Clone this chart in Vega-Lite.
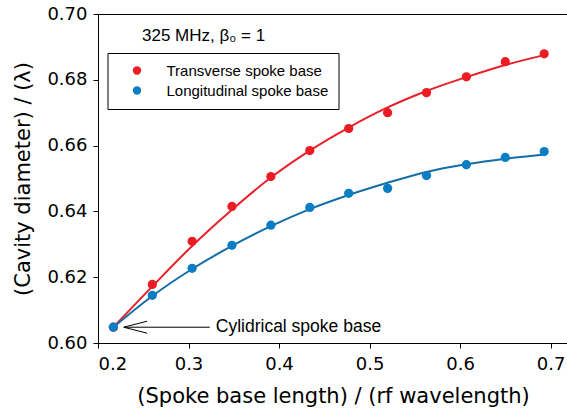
{
  "$schema": "https://vega.github.io/schema/vega-lite/v6.json",
  "width": 470,
  "height": 329,
  "autosize": "none",
  "padding": {"left": 98, "top": 14, "right": 0, "bottom": 67},
  "background": "white",
  "config": {
    "view": {"stroke": "black", "strokeWidth": 1},
    "axis": {
      "grid": false,
      "domainColor": "black",
      "tickColor": "black",
      "labelColor": "black",
      "titleColor": "black",
      "tickSize": 5,
      "labelFont": "DejaVu Sans",
      "labelFontSize": 18,
      "titleFont": "DejaVu Sans",
      "titleFontSize": 21,
      "titleFontWeight": "normal"
    }
  },
  "datasets": {
    "points": [
      {"x": 0.217, "y": 0.6048, "series": "Transverse spoke base"},
      {"x": 0.260, "y": 0.6178, "series": "Transverse spoke base"},
      {"x": 0.304, "y": 0.6309, "series": "Transverse spoke base"},
      {"x": 0.348, "y": 0.6415, "series": "Transverse spoke base"},
      {"x": 0.391, "y": 0.6506, "series": "Transverse spoke base"},
      {"x": 0.434, "y": 0.6585, "series": "Transverse spoke base"},
      {"x": 0.477, "y": 0.6652, "series": "Transverse spoke base"},
      {"x": 0.520, "y": 0.6700, "series": "Transverse spoke base"},
      {"x": 0.563, "y": 0.6761, "series": "Transverse spoke base"},
      {"x": 0.607, "y": 0.6809, "series": "Transverse spoke base"},
      {"x": 0.650, "y": 0.6855, "series": "Transverse spoke base"},
      {"x": 0.693, "y": 0.6879, "series": "Transverse spoke base"},
      {"x": 0.217, "y": 0.6048, "series": "Longitudinal spoke base"},
      {"x": 0.260, "y": 0.6145, "series": "Longitudinal spoke base"},
      {"x": 0.304, "y": 0.6227, "series": "Longitudinal spoke base"},
      {"x": 0.348, "y": 0.6297, "series": "Longitudinal spoke base"},
      {"x": 0.391, "y": 0.6358, "series": "Longitudinal spoke base"},
      {"x": 0.434, "y": 0.6412, "series": "Longitudinal spoke base"},
      {"x": 0.477, "y": 0.6455, "series": "Longitudinal spoke base"},
      {"x": 0.520, "y": 0.6470, "series": "Longitudinal spoke base"},
      {"x": 0.563, "y": 0.6509, "series": "Longitudinal spoke base"},
      {"x": 0.607, "y": 0.6542, "series": "Longitudinal spoke base"},
      {"x": 0.650, "y": 0.6564, "series": "Longitudinal spoke base"},
      {"x": 0.693, "y": 0.6582, "series": "Longitudinal spoke base"}
    ],
    "fits": [
      {"x": 0.217, "y": 0.6048, "series": "Transverse fit"},
      {"x": 0.260, "y": 0.6172, "series": "Transverse fit"},
      {"x": 0.304, "y": 0.6295, "series": "Transverse fit"},
      {"x": 0.348, "y": 0.6405, "series": "Transverse fit"},
      {"x": 0.391, "y": 0.6503, "series": "Transverse fit"},
      {"x": 0.434, "y": 0.6585, "series": "Transverse fit"},
      {"x": 0.477, "y": 0.6655, "series": "Transverse fit"},
      {"x": 0.520, "y": 0.6716, "series": "Transverse fit"},
      {"x": 0.563, "y": 0.6766, "series": "Transverse fit"},
      {"x": 0.607, "y": 0.6808, "series": "Transverse fit"},
      {"x": 0.650, "y": 0.6845, "series": "Transverse fit"},
      {"x": 0.693, "y": 0.6875, "series": "Transverse fit"},
      {"x": 0.217, "y": 0.6048, "series": "Longitudinal fit"},
      {"x": 0.260, "y": 0.6143, "series": "Longitudinal fit"},
      {"x": 0.304, "y": 0.6225, "series": "Longitudinal fit"},
      {"x": 0.348, "y": 0.6295, "series": "Longitudinal fit"},
      {"x": 0.391, "y": 0.6355, "series": "Longitudinal fit"},
      {"x": 0.434, "y": 0.6407, "series": "Longitudinal fit"},
      {"x": 0.477, "y": 0.6450, "series": "Longitudinal fit"},
      {"x": 0.520, "y": 0.6487, "series": "Longitudinal fit"},
      {"x": 0.563, "y": 0.6520, "series": "Longitudinal fit"},
      {"x": 0.607, "y": 0.6543, "series": "Longitudinal fit"},
      {"x": 0.650, "y": 0.6560, "series": "Longitudinal fit"},
      {"x": 0.693, "y": 0.6573, "series": "Longitudinal fit"}
    ],
    "notes": [
      {"x": 0.217, "y": 0.6048, "x_end": 0.3235, "label": "Cylidrical spoke base"}
    ],
    "heading": [
      {"x": 0.2486, "y": 0.6918, "label": "325 MHz, β₀ = 1"}
    ]
  },
  "layer": [
    {
      "data": {"name": "fits"},
      "mark": {"type": "line", "interpolate": "monotone", "strokeWidth": 2},
      "encoding": {
        "x": {
          "field": "x", "type": "quantitative",
          "scale": {"domain": [0.2, 0.7193], "nice": false, "zero": false},
          "axis": {"values": [0.2, 0.3, 0.4, 0.5, 0.6, 0.7], "format": ".1f", "labelPadding": 7, "titlePadding": 12, "title": "(Spoke base length) / (rf wavelength)"}
        },
        "y": {
          "field": "y", "type": "quantitative",
          "scale": {"domain": [0.6, 0.7], "nice": false, "zero": false},
          "axis": {"values": [0.6, 0.62, 0.64, 0.66, 0.68, 0.7], "format": ".2f", "labelPadding": 6, "titlePadding": 13, "title": "(Cavity diameter) / (λ)"}
        },
        "color": {
          "field": "series", "type": "nominal",
          "scale": {"domain": ["Transverse fit", "Longitudinal fit"], "range": ["#E8202A", "#136DA8"]},
          "legend": null
        }
      }
    },
    {
      "data": {"name": "points"},
      "mark": {"type": "point", "filled": true, "size": 85, "opacity": 1},
      "encoding": {
        "x": {"field": "x", "type": "quantitative",
          "axis": {"values": [0.2, 0.3, 0.4, 0.5, 0.6, 0.7], "format": ".1f", "labelPadding": 7, "titlePadding": 12, "title": "(Spoke base length) / (rf wavelength)"}},
        "y": {"field": "y", "type": "quantitative",
          "axis": {"values": [0.6, 0.62, 0.64, 0.66, 0.68, 0.7], "format": ".2f", "labelPadding": 6, "titlePadding": 13, "title": "(Cavity diameter) / (λ)"}},
        "color": {
          "field": "series", "type": "nominal", "sort": null,
          "scale": {"domain": ["Transverse spoke base", "Longitudinal spoke base"], "range": ["#EC1C24", "#0A7DC5"]},
          "legend": {
            "orient": "none", "legendX": 9.5, "legendY": 39, "title": null,
            "strokeColor": "black", "fillColor": "white", "padding": 10,
            "symbolType": "circle", "symbolSize": 70, "symbolStrokeWidth": 0,
            "symbolOffset": 12, "labelOffset": 22, "rowPadding": 4,
            "labelFont": "Liberation Sans", "labelFontSize": 15, "labelColor": "black", "labelLimit": 400
          }
        }
      }
    },
    {
      "data": {"name": "notes"},
      "mark": {"type": "rule", "color": "black", "strokeWidth": 1, "xOffset": 11},
      "encoding": {
        "x": {"field": "x", "type": "quantitative",
          "axis": {"values": [0.2, 0.3, 0.4, 0.5, 0.6, 0.7], "format": ".1f", "labelPadding": 7, "titlePadding": 12, "title": "(Spoke base length) / (rf wavelength)"}},
        "x2": {"field": "x_end"},
        "y": {"field": "y", "type": "quantitative",
          "axis": {"values": [0.6, 0.62, 0.64, 0.66, 0.68, 0.7], "format": ".2f", "labelPadding": 6, "titlePadding": 13, "title": "(Cavity diameter) / (λ)"}}
      }
    },
    {
      "data": {"name": "notes"},
      "mark": {"type": "point", "shape": "M 1 -0.51 L -1 0 L 1 0.51", "filled": false, "stroke": "black", "strokeWidth": 1, "size": 548, "opacity": 1, "xOffset": 22},
      "encoding": {
        "x": {"field": "x", "type": "quantitative",
          "axis": {"values": [0.2, 0.3, 0.4, 0.5, 0.6, 0.7], "format": ".1f", "labelPadding": 7, "titlePadding": 12, "title": "(Spoke base length) / (rf wavelength)"}},
        "y": {"field": "y", "type": "quantitative",
          "axis": {"values": [0.6, 0.62, 0.64, 0.66, 0.68, 0.7], "format": ".2f", "labelPadding": 6, "titlePadding": 13, "title": "(Cavity diameter) / (λ)"}}
      }
    },
    {
      "data": {"name": "notes"},
      "mark": {"type": "text", "align": "left", "baseline": "middle", "dx": 6, "font": "Liberation Sans", "fontSize": 17.5, "color": "black"},
      "encoding": {
        "x": {"field": "x_end", "type": "quantitative",
          "axis": {"values": [0.2, 0.3, 0.4, 0.5, 0.6, 0.7], "format": ".1f", "labelPadding": 7, "titlePadding": 12, "title": "(Spoke base length) / (rf wavelength)"}},
        "y": {"field": "y", "type": "quantitative",
          "axis": {"values": [0.6, 0.62, 0.64, 0.66, 0.68, 0.7], "format": ".2f", "labelPadding": 6, "titlePadding": 13, "title": "(Cavity diameter) / (λ)"}},
        "text": {"field": "label"}
      }
    },
    {
      "data": {"name": "heading"},
      "mark": {"type": "text", "align": "left", "baseline": "alphabetic", "font": "Liberation Sans", "fontSize": 17, "color": "black"},
      "encoding": {
        "x": {"field": "x", "type": "quantitative",
          "axis": {"values": [0.2, 0.3, 0.4, 0.5, 0.6, 0.7], "format": ".1f", "labelPadding": 7, "titlePadding": 12, "title": "(Spoke base length) / (rf wavelength)"}},
        "y": {"field": "y", "type": "quantitative",
          "axis": {"values": [0.6, 0.62, 0.64, 0.66, 0.68, 0.7], "format": ".2f", "labelPadding": 6, "titlePadding": 13, "title": "(Cavity diameter) / (λ)"}},
        "text": {"field": "label"}
      }
    }
  ],
  "resolve": {"scale": {"color": "independent"}}
}
